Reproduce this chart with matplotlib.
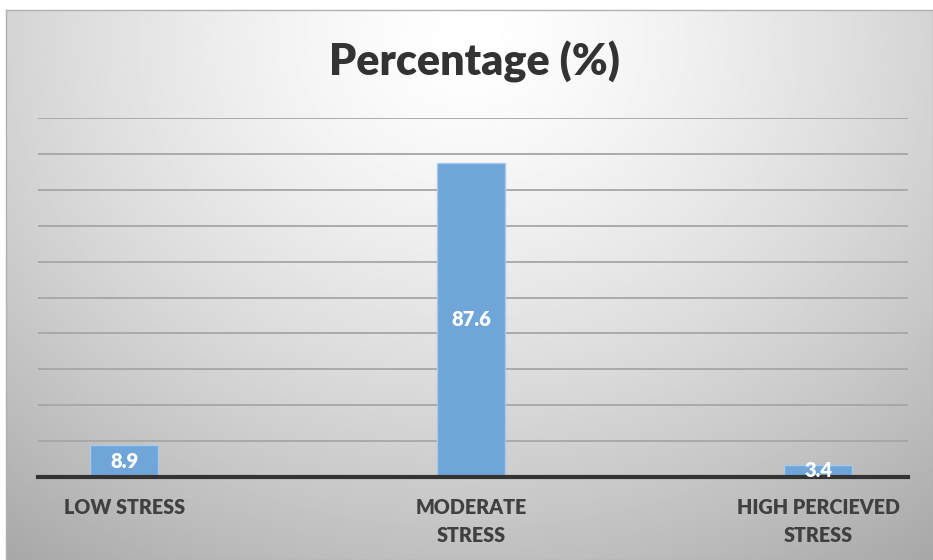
import numpy as np
import matplotlib.pyplot as plt

categories = ["LOW STRESS", "MODERATE\nSTRESS", "HIGH PERCIEVED\nSTRESS"]
values = [8.9, 87.6, 3.4]
labels = ["8.9", "87.6", "3.4"]

plt.rcParams['font.family'] = ['Lato', 'DejaVu Sans']

fig = plt.figure(figsize=(9.33, 5.6), dpi=100)

# background panel with soft radial gradient
bg = fig.add_axes([6 / 933, 0, 1 - 6 / 933, 1 - 10 / 560], zorder=-1)
yy, xx = np.mgrid[0:1:300j, 0:1:500j]
d = np.sqrt(((xx - 0.5) / 0.7) ** 2 + ((yy - 0.05) / 1.0) ** 2)
shade = 1.0 - 0.27 * np.clip(d, 0, 1.2) ** 1.4
bg.imshow(shade, cmap="gray", vmin=0, vmax=1, aspect="auto",
          extent=[0, 1, 1, 0], interpolation="bilinear")
bg.set_xticks([])
bg.set_yticks([])
for s in bg.spines.values():
    s.set_color("#b0b0b0")
    s.set_linewidth(1)

ax = fig.add_axes([38 / 933, 1 - 477 / 560, 870 / 933, 359 / 560])
ax.patch.set_alpha(0)
x = np.arange(len(categories))
bars = ax.bar(x, values, width=0.196, color="#6fa5d8", edgecolor="#a9c9e8",
              linewidth=1, zorder=2)
for b, lab in zip(bars, labels):
    ax.text(b.get_x() + b.get_width() / 2, b.get_height() / 2, lab,
            ha="center", va="center", color="white", fontsize=14.5,
            fontweight="heavy", zorder=4)

ax.set_xlim(-0.248, 2.259)
ax.set_ylim(0, 100)
ax.set_yticks(np.arange(0, 101, 10))
ax.yaxis.grid(True, color="#a6a6a6", linewidth=1.3, zorder=0)
ax.set_axisbelow(True)
ax.tick_params(axis="y", left=False, labelleft=False)
ax.tick_params(axis="x", length=0, pad=15)
ax.set_xticks(x)
ax.set_xticklabels(categories, fontsize=14.2, fontweight="heavy", color="#404040",
                   linespacing=1.55, va="top")
for s in ["top", "right", "left"]:
    ax.spines[s].set_visible(False)
ax.spines["bottom"].set_color("#333333")
ax.spines["bottom"].set_linewidth(3)
ax.spines["bottom"].set_zorder(3)

fig.text(474 / 933, 1 - 62 / 560, "Percentage (%)", ha="center", va="center",
         fontsize=31, fontweight="heavy", color="#333333")

fig.savefig("out.png", dpi=100)
